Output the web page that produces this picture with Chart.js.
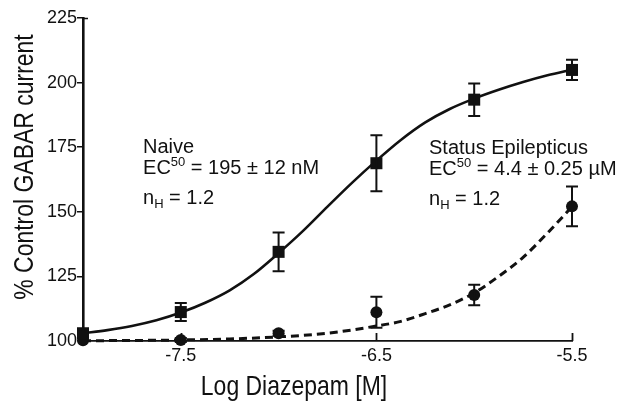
<!DOCTYPE html>
<html lang="en">
<head>
<meta charset="UTF-8">
<title>Diazepam dose-response</title>
<script src="https://cdn.jsdelivr.net/npm/chart.js"></script>
<style>
  html, body { margin: 0; padding: 0; background: #fff; }
</style>
</head>
<body>
<canvas id="doseChart" width="634" height="405"></canvas>
<script>
// measured points, x = log [diazepam] (M)
const doses = [-8, -7.5, -7, -6.5, -6, -5.5];
const naiveMean = [103, 111.2, 134.5, 168.8, 193.4, 204.9];
const naiveSem = [1.5, 3.5, 7.5, 10.8, 6.3, 3.9];
const seMean = [100.3, 100.4, 103, 111.1, 117.8, 152.1];
const seSem = [0, 0.8, 1, 6, 4, 7.7];

// fitted curves
const naiveFitX = [-8, -7.875, -7.75, -7.625, -7.5, -7.375, -7.25, -7.125, -7, -6.875, -6.75,
                   -6.625, -6.5, -6.375, -6.25, -6.125, -6, -5.875, -5.75, -5.625, -5.5];
const naiveFitY = [103, 104.2, 105.8, 108, 111, 114.8, 119.6, 126, 134, 142.6, 152,
                   161.2, 169.8, 177.8, 184.6, 189.8, 193.8, 197.2, 200.2, 202.8, 205];
const seFitX = [-8, -7.75, -7.5, -7.25, -7, -6.75, -6.5, -6.375, -6.25, -6.125, -6, -5.875, -5.75, -5.625, -5.5];
const seFitY = [100.1, 100.2, 100.4, 100.8, 101.6, 103, 105.8, 107.6, 110.6, 114, 118.6, 125, 132.4, 141.8, 152];

const xTicks = [-7.5, -6.5, -5.5];
const yTicks = [100, 125, 150, 175, 200, 225];

const INK = '#111';
const FONT = '"Liberation Sans", Arial, sans-serif';

function pts(xs, ys) {
    return xs.map((x, i) => ({ x: x, y: ys[i] }));
}

// error bars for datasets that carry an "errors" array
const errorBars = {
    id: 'errorBars',
    afterDatasetsDraw(chart) {
        const ctx = chart.ctx;
        const ys = chart.scales.y;
        chart.data.datasets.forEach((ds, i) => {
            if (!ds.errors) return;
            const meta = chart.getDatasetMeta(i);
            ctx.save();
            ctx.strokeStyle = INK;
            ctx.lineWidth = 2;
            meta.data.forEach((el, j) => {
                const e = ds.errors[j];
                if (!e) return;
                const v = ds.data[j].y;
                const top = ys.getPixelForValue(v + e);
                const bot = ys.getPixelForValue(v - e);
                ctx.beginPath();
                ctx.moveTo(el.x, top); ctx.lineTo(el.x, bot);
                ctx.moveTo(el.x - 6, top); ctx.lineTo(el.x + 6, top);
                ctx.moveTo(el.x - 6, bot); ctx.lineTo(el.x + 6, bot);
                ctx.stroke();
            });
            ctx.restore();
        });
    }
};

function drawRich(ctx, x, y, parts) {
    parts.forEach(p => {
        const small = p.sup || p.sub;
        ctx.font = (small ? '13px ' : '20px ') + FONT;
        const dy = p.sup ? -8 : (p.sub ? 4 : 0);
        ctx.fillText(p.t, x, y + dy);
        x += ctx.measureText(p.t).width;
    });
}

// axis titles (condensed), inward x ticks and the text blocks
const decorations = {
    id: 'decorations',
    afterDraw(chart) {
        const ctx = chart.ctx;
        const xs = chart.scales.x, ys = chart.scales.y;
        const area = chart.chartArea;
        ctx.save();
        ctx.fillStyle = INK;
        ctx.strokeStyle = INK;

        // x ticks point up into the plot
        ctx.lineWidth = 1.8;
        xTicks.forEach(v => {
            const px = Math.round(xs.getPixelForValue(v)) + 0.5;
            ctx.beginPath();
            ctx.moveTo(px, area.bottom);
            ctx.lineTo(px, area.bottom - 8);
            ctx.stroke();
        });
        // small stub at top of y axis
        ctx.lineWidth = 1.5;
        ctx.beginPath();
        ctx.moveTo(area.left, area.top + 0.5);
        ctx.lineTo(area.left + 5, area.top + 0.5);
        ctx.stroke();

        ctx.font = '28px ' + FONT;
        ctx.textAlign = 'center';
        ctx.textBaseline = 'alphabetic';
        ctx.save();
        ctx.translate(area.left + 211, 395);
        ctx.scale(0.82, 1);
        ctx.fillText('Log Diazepam [M]', 0, 0);
        ctx.restore();

        ctx.save();
        ctx.translate(33, 167);
        ctx.rotate(-Math.PI / 2);
        ctx.scale(0.82, 1);
        ctx.fillText('% Control GABAR current', 0, 0);
        ctx.restore();

        ctx.textAlign = 'left';
        chart.options.plugins.decorations.blocks.forEach(b => {
            const x0 = xs.getPixelForValue(b.x);
            const y0 = ys.getPixelForValue(b.y);
            b.lines.forEach((parts, k) => drawRich(ctx, x0, y0 + b.gaps[k], parts));
        });
        ctx.restore();
    }
};

new Chart(document.getElementById('doseChart'), {
    type: 'scatter',
    data: {
        datasets: [
            {
                label: 'Naive',
                data: pts(doses, naiveMean),
                errors: naiveSem,
                pointStyle: 'rect',
                pointRadius: 8.5,
                backgroundColor: INK,
                borderColor: INK,
                borderWidth: 0,
                showLine: false,
                order: 0
            },
            {
                label: 'Status Epilepticus',
                data: pts(doses, seMean),
                errors: seSem,
                pointStyle: 'circle',
                pointRadius: 6,
                backgroundColor: INK,
                borderColor: INK,
                borderWidth: 0,
                showLine: false,
                order: 0
            },
            {
                label: 'Naive fit',
                data: pts(naiveFitX, naiveFitY),
                showLine: true,
                borderColor: INK,
                borderWidth: 2.6,
                pointRadius: 0,
                cubicInterpolationMode: 'monotone',
                fill: false,
                order: 1
            },
            {
                label: 'SE fit',
                data: pts(seFitX, seFitY),
                showLine: true,
                borderColor: INK,
                borderWidth: 3,
                borderDash: [8, 5],
                pointRadius: 0,
                cubicInterpolationMode: 'monotone',
                fill: false,
                order: 1
            }
        ]
    },
    options: {
        responsive: false,
        animation: false,
        devicePixelRatio: 1,
        clip: false,
        layout: { padding: { top: 18, right: 62, bottom: 0, left: 0 } },
        scales: {
            x: {
                type: 'linear',
                min: -8,
                max: -5.5,
                afterBuildTicks: s => { s.ticks = xTicks.map(v => ({ value: v })); },
                afterFit: s => { s.height = 64; },
                ticks: {
                    color: INK,
                    font: { size: 18, family: FONT },
                    padding: 4,
                    maxRotation: 0,
                    autoSkip: false,
                    callback: v => v.toFixed(1)
                },
                grid: { drawOnChartArea: false, drawTicks: false },
                border: { color: INK, width: 1.8 }
            },
            y: {
                min: 100,
                max: 225,
                afterBuildTicks: s => { s.ticks = yTicks.map(v => ({ value: v })); },
                afterFit: s => { s.width = 83; },
                ticks: {
                    color: INK,
                    font: { size: 18, family: FONT },
                    padding: 0
                },
                grid: { drawOnChartArea: false, drawTicks: true, tickLength: 6, color: INK, lineWidth: 1.5 },
                border: { color: INK, width: 2.6 }
            }
        },
        plugins: {
            legend: { display: false },
            tooltip: { enabled: false },
            decorations: {
                blocks: [
                    {
                        x: -7.693, y: 172.8, gaps: [0, 21, 51],
                        lines: [
                            [{ t: 'Naive' }],
                            [{ t: 'EC' }, { t: '50', sup: true }, { t: ' = 195 ± 12 nM' }],
                            [{ t: 'n' }, { t: 'H', sub: true }, { t: ' = 1.2' }]
                        ]
                    },
                    {
                        x: -6.231, y: 172.4, gaps: [0, 21, 51],
                        lines: [
                            [{ t: 'Status Epilepticus' }],
                            [{ t: 'EC' }, { t: '50', sup: true }, { t: ' = 4.4 ± 0.25 µM' }],
                            [{ t: 'n' }, { t: 'H', sub: true }, { t: ' = 1.2' }]
                        ]
                    }
                ]
            }
        }
    },
    plugins: [errorBars, decorations]
});
</script>
</body>
</html>
